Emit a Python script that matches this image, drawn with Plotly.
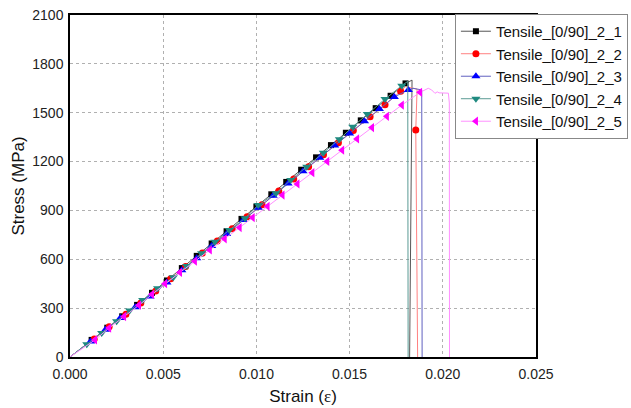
import plotly.graph_objects as go

names = ["Tensile_[0/90]_2_1", "Tensile_[0/90]_2_2", "Tensile_[0/90]_2_3",
         "Tensile_[0/90]_2_4", "Tensile_[0/90]_2_5"]

# Series 1 (black squares)
s1_strain = [0.0, 0.00116, 0.0020, 0.0028, 0.0036, 0.0044, 0.0052, 0.0060, 0.0068, 0.0076, 0.0084,
             0.0092, 0.0100, 0.0108, 0.0116, 0.0124, 0.0132, 0.0140, 0.0148, 0.0156, 0.0164,
             0.0172, 0.0180, 0.01835, 0.01822]
s1_stress = [0, 105, 180, 250, 320, 394, 470, 546, 621, 697, 772,
             848, 924, 999, 1075, 1150, 1226, 1301, 1377, 1453, 1528,
             1604, 1680, 1700, 0]
s1_marks = list(range(1, 23))

# Series 2 (red circles)
s2_strain = [0.0, 0.0013, 0.0021, 0.0030, 0.0038, 0.0046, 0.0054, 0.0062, 0.0071, 0.0079, 0.0087,
             0.0095, 0.0103, 0.0112, 0.0120, 0.0128, 0.0136, 0.0144, 0.0152, 0.0161, 0.0169,
             0.01774, 0.0180, 0.01862, 0.01855, 0.01865]
s2_stress = [0, 110, 185, 262, 332, 405, 480, 555, 638, 712, 787,
             861, 935, 1019, 1093, 1168, 1242, 1316, 1391, 1475, 1549,
             1632, 1660, 1645, 1394, 0]
s2_marks = list(range(1, 22)) + [24]

# Series 3 (blue up-triangles)
s3_strain = [0.0, 0.0011, 0.0019, 0.0027, 0.0035, 0.0043, 0.0052, 0.0060, 0.0068, 0.0076, 0.0084,
             0.0093, 0.0101, 0.0109, 0.0117, 0.0125, 0.0134, 0.0142, 0.0150, 0.0158, 0.0166,
             0.0174, 0.01815, 0.0184, 0.01887, 0.01889]
s3_stress = [0, 95, 168, 240, 305, 372, 457, 532, 607, 682, 756,
             841, 916, 990, 1065, 1140, 1224, 1299, 1373, 1448, 1523,
             1597, 1640, 1650, 1640, 0]
s3_marks = list(range(1, 23))

# Series 4 (teal down-triangles)
s4_strain = [0.0, 0.0009, 0.0017, 0.0025, 0.0032, 0.0039, 0.0047, 0.00554, 0.00626, 0.00706, 0.00778,
             0.00855, 0.00939, 0.0101, 0.01105, 0.01184, 0.0127, 0.01359, 0.01445, 0.01517, 0.01595,
             0.0169, 0.0178, 0.01812, 0.01814]
s4_stress = [0, 78, 148, 220, 285, 350, 422, 489, 559, 637, 708,
             780, 852, 933, 1005, 1087, 1168, 1254, 1337, 1414, 1492,
             1584, 1666, 1693, 0]
s4_marks = list(range(1, 23))

# Series 5 (magenta left-triangles)
s5_strain = [0.0, 0.00134, 0.0021, 0.0029, 0.0037, 0.0044, 0.0051, 0.0059, 0.0067, 0.0075, 0.0083,
             0.0091, 0.0098, 0.0106, 0.0114, 0.0122, 0.0130, 0.0138, 0.0146, 0.0154, 0.0162,
             0.0170, 0.0178, 0.01878, 0.01922, 0.0194, 0.01958, 0.0197, 0.0198, 0.0203,
             0.02035, 0.02036]
s5_stress = [0, 105, 178, 248, 318, 385, 450, 519, 588, 657, 726,
             795, 856, 925, 994, 1063, 1132, 1201, 1270, 1339, 1409,
             1478, 1547, 1625, 1650, 1640, 1619, 1628, 1622, 1620,
             1560, 0]
s5_marks = list(range(1, 24))

series = [
    (s1_strain, s1_stress, s1_marks, "#000000", "#555555", "square", 6),
    (s2_strain, s2_stress, s2_marks, "#ff0000", "#ff8080", "circle", 7),
    (s3_strain, s3_stress, s3_marks, "#0000ff", "#6060c0", "triangle-up", 8),
    (s4_strain, s4_stress, s4_marks, "#1f8a80", "#5a9a94", "triangle-down", 8),
    (s5_strain, s5_stress, s5_marks, "#ff00ff", "#ff90ff", "triangle-left", 8),
]

fig = go.Figure()
for name, (xs, ys, marks, mc, lc, sym, sz) in zip(names, series):
    fig.add_trace(go.Scatter(x=xs, y=ys, mode="lines", line=dict(color=lc, width=1),
                             showlegend=False, hoverinfo="skip"))
    fig.add_trace(go.Scatter(x=[xs[i] for i in marks], y=[ys[i] for i in marks], mode="markers",
                             marker=dict(color=mc, symbol=sym, size=sz, line=dict(width=0)),
                             showlegend=False))
    fig.add_trace(go.Scatter(x=[None], y=[None], mode="lines+markers", name=name,
                             line=dict(color=lc, width=1),
                             marker=dict(color=mc, symbol=sym, size=sz, line=dict(width=0))))

font = "Arial, Liberation Sans, sans-serif"
fig.update_layout(
    width=631, height=408,
    margin=dict(l=70, r=95, t=15, b=51, autoexpand=False),
    paper_bgcolor="white", plot_bgcolor="white",
    font=dict(family=font, size=14, color="#222"),
    legend=dict(x=0.826, y=1.003, xanchor="left", yanchor="top",
                bgcolor="white", bordercolor="#888", borderwidth=1,
                font=dict(size=15, family=font, color="#111"), tracegroupgap=0,
                itemwidth=30),
    xaxis=dict(range=[0, 0.025], dtick=0.005, tick0=0, tickformat=".3f",
               showgrid=True, gridcolor="#b0b0b0", griddash="3px,3px", gridwidth=1,
               zeroline=False, showline=True, linecolor="black", linewidth=1.5, mirror=True,
               ticks="", ticklen=0, ticklabelstandoff=3,
               title=dict(text="Strain (<span style='font-family:Liberation Serif,serif'>ε</span>)",
                          font=dict(size=17, color="#111"), standoff=10)),
    yaxis=dict(range=[0, 2100], dtick=300, tick0=0,
               showgrid=True, gridcolor="#b0b0b0", griddash="3px,3px", gridwidth=1,
               zeroline=False, showline=True, linecolor="black", linewidth=1.5, mirror=True,
               ticks="", ticklen=0, ticklabelstandoff=2,
               title=dict(text="Stress (MPa)", font=dict(size=17, color="#111"), standoff=3)),
)

fig.write_html("out.html")
